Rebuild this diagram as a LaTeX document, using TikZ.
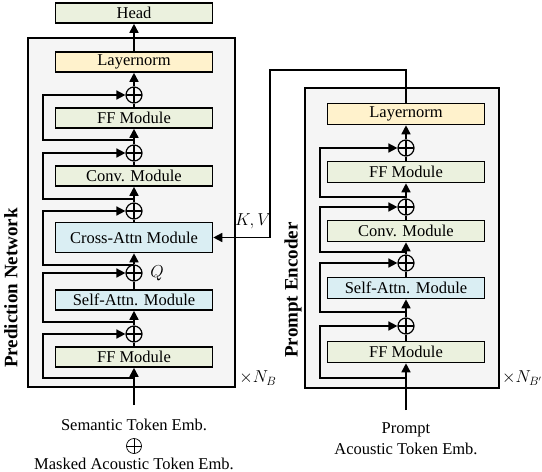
\documentclass[tikz,border=0pt]{standalone}
\usepackage{amsmath}
\usepackage{fontspec}
\setmainfont{Liberation Serif}
\usetikzlibrary{arrows.meta}
\definecolor{MyGrey}{rgb}{0.96,0.96,0.96}
\definecolor{MyGreen}{RGB}{235,241,222}
\definecolor{MyBlue}{RGB}{218,238,243}
\definecolor{MyYellow}{RGB}{255,242,204}

\begin{document}
\begin{tikzpicture}[x=1pt,y=-1pt]
  \tikzstyle{every node}=[font=\fontsize{16.5}{19}\selectfont]
  \tikzstyle{module}=[draw, line width=1.6pt, minimum width=157pt, minimum height=20pt, inner sep=0pt]
  \tikzstyle{addnode}=[draw, circle, line width=1.2pt, minimum size=16pt, inner sep=0pt,
    path picture={\draw[line width=1.2pt] (path picture bounding box.north) -- (path picture bounding box.south)
      (path picture bounding box.west) -- (path picture bounding box.east);}]
  \tikzstyle{thinadd}=[draw, circle, line width=0.7pt, minimum size=15pt, inner sep=0pt,
    path picture={\draw[line width=0.7pt] (path picture bounding box.north) -- (path picture bounding box.south)
      (path picture bounding box.west) -- (path picture bounding box.east);}]
  \tikzstyle{wire}=[line width=1.6pt]
  \tikzstyle{flow}=[wire, -{Triangle[length=9pt,width=9pt]}]
  \tikzstyle{sidelabel}=[rotate=90, font=\bfseries\fontsize{19}{22}\selectfont]
  \tikzstyle{caption}=[inner sep=0pt]
  \useasboundingbox (0,0) rectangle (542,472);

  % prediction network
  \draw[wire, fill=MyGrey] (28,38) rectangle (235,387);
  \node[module, fill=MyGreen] (head) at (134,13) {Head};
  \node[module, fill=MyYellow] (lnL) at (134,62) {Layernorm};
  \node[addnode] (addL5) at (134,95) {};
  \node[module, fill=MyGreen] (ffL) at (134,118) {FF Module};
  \node[addnode] (addL4) at (134,153) {};
  \node[module, fill=MyGreen] (convL) at (134,176) {Conv. Module};
  \node[addnode] (addL3) at (134,211) {};
  \node[module, fill=MyBlue, minimum height=30pt] (crossL) at (134,237.5) {Cross-Attn Module};
  \node[addnode] (addL2) at (134,273) {};
  \node[module, fill=MyBlue] (selfL) at (134,300) {Self-Attn. Module};
  \node[addnode] (addL1) at (134,334) {};
  \node[module, fill=MyGreen] (ffLz) at (134,357) {FF Module};
  \coordinate (inL) at (134,405);

  \draw[flow] (inL) -- (ffLz);
  \foreach \a/\b in {ffLz/addL1, selfL/addL2, crossL/addL3, convL/addL4, ffL/addL5}
    \draw[wire] (\a) -- (\b);
  \foreach \a/\b in {addL1/selfL, addL2/crossL, addL3/convL, addL4/ffL, addL5/lnL, lnL/head}
    \draw[flow] (\a) -- (\b);

  % residual paths
  \foreach \y/\b in {378/addL1, 322/addL2, 265/addL3, 199/addL4, 140/addL5}
    \draw[flow] (134,\y) -- (43,\y) |- (\b.west);

  \node (qlab) at (157,273) {$Q$};
  \node (nbL) at (258,378) {$\times N_B$};
  \node[sidelabel] (predlab) at (11,288) {Prediction Network};
  \node[caption] (semL) at (134,425) {Semantic Token Emb.};
  \node[thinadd] (plusL) at (134,446) {};
  \node[caption] (maskL) at (134,464) {Masked Acoustic Token Emb.};

  % prompt encoder
  \draw[wire, fill=MyGrey] (305,88) rectangle (499,388);
  \node[module, fill=MyYellow, minimum height=21pt] (lnR) at (406,114) {Layernorm};
  \node[addnode] (addR4) at (406,148) {};
  \node[module, fill=MyGreen, minimum height=21pt] (ffR) at (406,172) {FF Module};
  \node[addnode] (addR3) at (406,207) {};
  \node[module, fill=MyGreen, minimum height=21pt] (convR) at (406,231) {Conv. Module};
  \node[addnode] (addR2) at (406,263) {};
  \node[module, fill=MyBlue, minimum height=21pt] (selfR) at (406,288) {Self-Attn. Module};
  \node[addnode] (addR1) at (406,326) {};
  \node[module, fill=MyGreen, minimum height=21pt] (ffRz) at (406,352) {FF Module};
  \coordinate (inR) at (406,410);

  \draw[flow] (inR) -- (ffRz);
  \foreach \a/\b in {ffRz/addR1, selfR/addR2, convR/addR3, ffR/addR4}
    \draw[wire] (\a) -- (\b);
  \foreach \a/\b in {addR1/selfR, addR2/convR, addR3/ffR, addR4/lnR}
    \draw[flow] (\a) -- (\b);

  \foreach \y/\b in {378/addR1, 312/addR2, 252/addR3, 197/addR4}
    \draw[flow] (406,\y) -- (320,\y) |- (\b.west);

  % K,V from the prompt encoder
  \coordinate (kvtop) at (270,70);
  \draw[flow] (lnR.north) |- (kvtop) |- (crossL.east);
  \node (kv) at (253,221) {$K,V$};

  \node (nbR) at (522,378) {$\times N_{B'}$};
  \node[sidelabel] (enclab) at (293,290) {Prompt Encoder};
  \node[caption] (promptR) at (406,430) {Prompt};
  \node[caption] (acR) at (406,449) {Acoustic Token Emb.};
\end{tikzpicture}
\end{document}
